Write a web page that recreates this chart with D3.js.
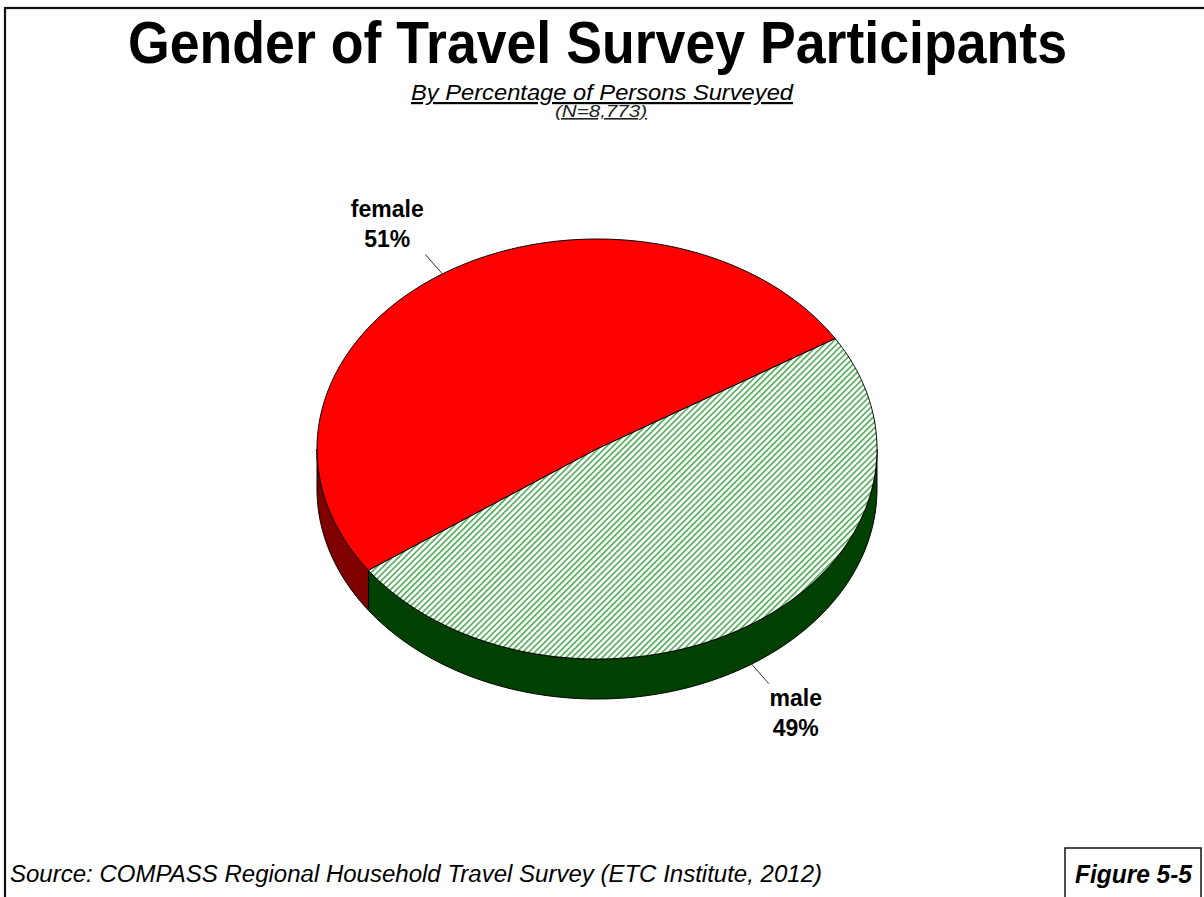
<!DOCTYPE html>
<html>
<head>
<meta charset="utf-8">
<script src="https://cdn.jsdelivr.net/npm/d3@7/dist/d3.min.js"></script>
<style>
  html, body { margin: 0; padding: 0; background: #fff; }
  svg { display: block; font-family: "Liberation Sans", Arial, sans-serif; }
</style>
</head>
<body>
<svg id="chart" width="1204" height="897"></svg>
<script>
// Survey shares by gender (percent of persons surveyed)
const categories = ["female", "male"];
const values = [51, 49];
const valueLabels = ["51%", "49%"];

const titleText = "Gender of Travel Survey Participants";
const subtitleText = "By Percentage of Persons Surveyed";
const sampleText = "(N=8,773)";
const sourceText = "Source:  COMPASS Regional Household Travel Survey (ETC Institute, 2012)";
const figureText = "Figure 5-5";

const svg = d3.select("#chart");
const W = 1204, H = 897;

// Outer page frame (runs off the right and bottom edges)
svg.append("rect")
  .attr("x", 5).attr("y", 8).attr("width", W + 20).attr("height", H + 20)
  .attr("fill", "none").attr("stroke", "#111").attr("stroke-width", 2.2);

// Diagonal hatch for the male slice
const defs = svg.append("defs");
const pat = defs.append("pattern")
  .attr("id", "hatch").attr("patternUnits", "userSpaceOnUse")
  .attr("width", 4.3).attr("height", 4.3)
  .attr("patternTransform", "rotate(45)");
pat.append("rect").attr("width", 4.3).attr("height", 4.3).attr("fill", "#ffffff");
pat.append("rect").attr("x", 0).attr("y", 0).attr("width", 1.6).attr("height", 4.3)
  .attr("fill", "#4fae55");

// Title block
svg.append("text")
  .attr("x", 597.5).attr("y", 63)
  .attr("text-anchor", "middle")
  .attr("font-size", 59).attr("font-weight", "bold")
  .attr("textLength", 939).attr("lengthAdjust", "spacingAndGlyphs")
  .text(titleText);

svg.append("text")
  .attr("x", 602).attr("y", 100)
  .attr("text-anchor", "middle")
  .attr("font-size", 22).attr("font-style", "italic")
  .attr("text-decoration", "underline")
  .attr("textLength", 382).attr("lengthAdjust", "spacingAndGlyphs")
  .text(subtitleText);

svg.append("text")
  .attr("x", 601).attr("y", 117)
  .attr("text-anchor", "middle")
  .attr("font-size", 16).attr("font-style", "italic")
  .attr("text-decoration", "underline").attr("fill", "#222")
  .attr("textLength", 92).attr("lengthAdjust", "spacingAndGlyphs")
  .text(sampleText);

// 3D pie geometry
const cx = 597, cy = 449, rx = 280, ry = 210, depth = 40;
const pie = d3.pie().sort(null)
  .startAngle(-125.3 * Math.PI / 180)
  .endAngle((360 - 125.3) * Math.PI / 180);
const arcs = pie(values);

// d3 pie angle (clockwise from 12 o'clock) -> point on the tilted ellipse
const pt = (a, dy = 0) => [cx + rx * Math.sin(a), cy - ry * Math.cos(a) + dy];
const line = d3.line();
const sample = (a0, a1, dy) => {
  const n = Math.max(2, Math.ceil(Math.abs(a1 - a0) / 0.01));
  return d3.range(n + 1).map(i => pt(a0 + (a1 - a0) * i / n, dy));
};

const topFill = ["#ff0000", "url(#hatch)"];
const sideFill = ["#800000", "#004000"];

// Side walls: the front half of the ellipse lies between d3 angles PI/2 and 3PI/2
const front0 = Math.PI / 2, front1 = 3 * Math.PI / 2;

arcs.forEach((d, i) => {
  // check the slice span, and its copies one turn either way, against the front half
  [0, 2 * Math.PI, -2 * Math.PI].forEach(shift => {
    const s = Math.max(d.startAngle + shift, front0);
    const e = Math.min(d.endAngle + shift, front1);
    if (e > s) {
      const pts = sample(s, e, 0).concat(sample(e, s, depth));
      svg.append("path")
        .attr("d", line(pts) + "Z")
        .attr("fill", sideFill[i])
        .attr("stroke", "#000").attr("stroke-width", 1)
        .attr("stroke-linejoin", "round");
    }
  });
});

// Top faces
arcs.forEach((d, i) => {
  const pts = [[cx, cy]].concat(sample(d.startAngle, d.endAngle, 0));
  svg.append("path")
    .attr("d", line(pts) + "Z")
    .attr("fill", topFill[i])
    .attr("stroke", "#000").attr("stroke-width", 1)
    .attr("stroke-linejoin", "round");
});

// Leader lines and labels
arcs.forEach((d, i) => {
  const mid = (d.startAngle + d.endAngle) / 2;
  const front = Math.cos(mid) < 0;
  const start = pt(mid, front ? depth : 0);
  let ux = rx * Math.sin(mid), uy = -ry * Math.cos(mid);
  const len = Math.hypot(ux, uy);
  ux /= len; uy /= len;
  const end = [start[0] + ux * 26, start[1] + uy * 26];
  svg.append("line")
    .attr("x1", start[0]).attr("y1", start[1])
    .attr("x2", end[0]).attr("y2", end[1])
    .attr("stroke", "#333").attr("stroke-width", 1);

  const lx = end[0] + (ux < 0 ? -38 : 27);
  const b1 = uy < 0 ? end[1] - 37 : end[1] + 22;
  const g = svg.append("g").attr("font-size", 23).attr("font-weight", "bold")
    .attr("text-anchor", "middle");
  g.append("text").attr("x", lx).attr("y", b1).text(categories[i]);
  g.append("text").attr("x", lx).attr("y", b1 + 30).text(valueLabels[i]);
});

// Footer
svg.append("text")
  .attr("x", 10).attr("y", 882)
  .attr("font-size", 23).attr("font-style", "italic")
  .attr("textLength", 812).attr("lengthAdjust", "spacingAndGlyphs")
  .text(sourceText);

svg.append("rect")
  .attr("x", 1065).attr("y", 848).attr("width", 136).attr("height", 100)
  .attr("fill", "none").attr("stroke", "#111").attr("stroke-width", 1.5);

svg.append("text")
  .attr("x", 1075).attr("y", 883)
  .attr("font-size", 25).attr("font-style", "italic").attr("font-weight", "bold")
  .attr("textLength", 117).attr("lengthAdjust", "spacingAndGlyphs")
  .text(figureText);
</script>
</body>
</html>
